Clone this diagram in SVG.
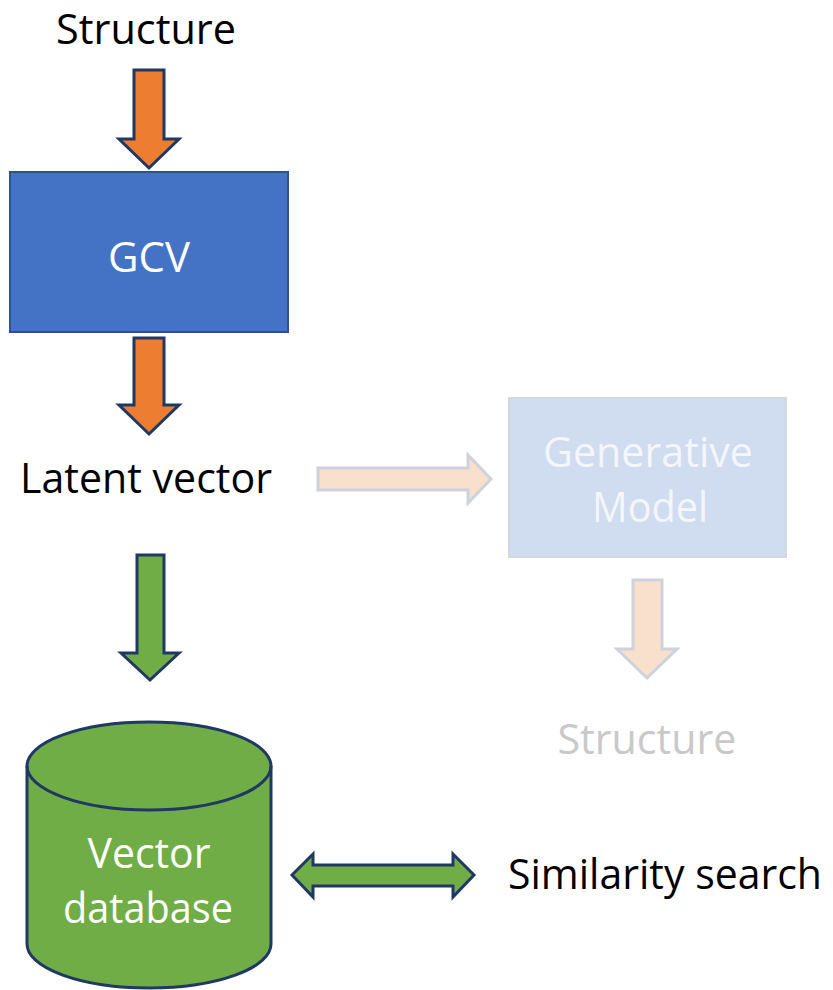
<svg xmlns="http://www.w3.org/2000/svg" width="833" height="990" viewBox="0 0 833 990">
<style>
text{font-family:"Open Sans","Noto Sans","Liberation Sans",sans-serif;font-size:42px;text-anchor:middle}
.dark{fill:#000}
.white{fill:#fff}
.ghost{fill:#F3F6FB}
.grey{fill:#C9C9C9}
.stk{stroke:#1F3864;stroke-width:3;stroke-linejoin:miter}
.orange{fill:#ED7D31}
.green{fill:#70AD47}
.faded{fill:#F9E0CD;stroke:#CDD2DC;stroke-width:3}
</style>
<rect width="833" height="990" fill="#fff"/>
<g id="structure-top"><text class="dark" x="146" y="44" font-size="40" textLength="180" lengthAdjust="spacingAndGlyphs">Structure</text></g>
<g id="gcv">
<rect x="10" y="172" width="278" height="160" fill="#4472C4" stroke="#2F528F" stroke-width="2"/>
<text class="white" x="149" y="272" textLength="82" lengthAdjust="spacingAndGlyphs">GCV</text>
</g>
<g id="latent-vector"><text class="dark" x="146" y="493" textLength="252" lengthAdjust="spacingAndGlyphs">Latent vector</text></g>
<g id="generative-model">
<rect x="509" y="398" width="277" height="159" fill="#D0DCF0" stroke="#D2D7E0" stroke-width="2"/>
<text class="ghost" x="648" y="467" textLength="210" lengthAdjust="spacingAndGlyphs">Generative</text>
<text class="ghost" x="650" y="522" textLength="116" lengthAdjust="spacingAndGlyphs">Model</text>
</g>
<g id="structure-faded"><text class="grey" x="647" y="754" textLength="179" lengthAdjust="spacingAndGlyphs">Structure</text></g>
<g id="vector-database">
<path d="M27,766 L27,944 A122,44 0 0 0 271,944 L271,766 A122,44 0 0 0 27,766 Z" fill="#70AD47" stroke="#1F3864" stroke-width="3"/>
<path d="M27,766 A122,44 0 0 0 271,766" fill="none" stroke="#1F3864" stroke-width="3"/>
<text class="white" x="149" y="868" textLength="123" lengthAdjust="spacingAndGlyphs">Vector</text>
<text class="white" x="148" y="923" textLength="170" lengthAdjust="spacingAndGlyphs">database</text>
</g>
<g id="similarity-search"><text class="dark" x="665" y="889" textLength="314" lengthAdjust="spacingAndGlyphs">Similarity search</text></g>
<g id="connectors">
<path class="orange stk" d="M134,70 L164,70 L164,139 L179,139 L149,168 L119,139 L134,139 Z"/>
<path class="orange stk" d="M134,338 L164,338 L164,405 L179,405 L149,434 L119,405 L134,405 Z"/>
<path class="green stk" d="M137,555 L164,555 L164,653 L179,653 L150,680 L121,653 L137,653 Z"/>
<path class="faded" d="M318,468 L468,468 L468,455 L491,479 L468,503 L468,490 L318,490 Z"/>
<path class="faded" d="M633,580 L662,580 L662,649 L677,649 L647,678 L617,649 L633,649 Z"/>
<path class="green stk" d="M292,875 L313,854 L313,865 L453,865 L453,854 L474,875 L453,897 L453,886 L313,886 L313,897 Z"/>
</g>
</svg>
